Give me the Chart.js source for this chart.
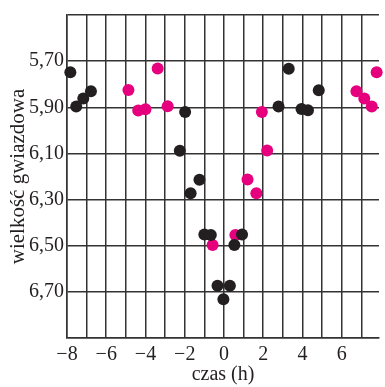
<!DOCTYPE html>
<html>
<head>
<meta charset="utf-8">
<script src="https://cdn.jsdelivr.net/npm/chart.js@4"></script>
<style>
  html, body { margin:0; padding:0; background:#fff; }
  #wrap { width:385px; height:387px; }
</style>
</head>
<body>
<div id="wrap"><canvas id="chart"></canvas></div>
<script>
// dane: czas (h) i wielkość gwiazdowa
const blackX = [-7.83, -7.53, -7.17, -6.78, -2.25, -1.98, -1.7, -1.25, -1.0, -0.67, -0.33, -0.03, 0.3, 0.53, 0.92, 2.78, 3.3, 3.95, 4.28, 4.83];
const blackY = [5.748, 5.897, 5.862, 5.83, 6.088, 5.92, 6.273, 6.214, 6.451, 6.454, 6.674, 6.732, 6.674, 6.497, 6.451, 5.897, 5.733, 5.907, 5.913, 5.826];
const pinkX = [-4.87, -4.37, -4.0, -3.38, -2.87, -0.58, 0.58, 1.2, 1.65, 1.93, 2.2, 6.75, 7.15, 7.53, 7.78];
const pinkY = [5.825, 5.914, 5.909, 5.732, 5.896, 6.497, 6.454, 6.213, 6.273, 5.92, 6.087, 5.83, 5.862, 5.897, 5.748];

const xTicks = [-8, -7, -6, -5, -4, -3, -2, -1, 0, 1, 2, 3, 4, 5, 6, 7];
const yTicks = [5.5, 5.7, 5.9, 6.1, 6.3, 6.5, 6.7, 6.9];
const yLabeled = [5.7, 5.9, 6.1, 6.3, 6.5, 6.7];

const BLACK = "#231f20";
const PINK = "#e6007e";
const FONT = "'Liberation Serif', 'DejaVu Serif', serif";

const toPts = (xs, ys) => xs.map((x, i) => ({ x, y: ys[i] }));

new Chart(document.getElementById("chart"), {
  type: "scatter",
  data: {
    datasets: [
      { data: toPts(blackX, blackY), backgroundColor: BLACK, borderColor: BLACK, pointRadius: 6, borderWidth: 0, clip: false, order: 0 },
      { data: toPts(pinkX, pinkY), backgroundColor: PINK, borderColor: PINK, pointRadius: 6, borderWidth: 0, clip: false, order: 1 }
    ]
  },
  options: {
    responsive: true,
    maintainAspectRatio: false,
    animation: false,
    layout: { padding: { top: 13, right: 0, left: 0, bottom: 0 } },
    plugins: { legend: { display: false }, tooltip: { enabled: false } },
    scales: {
      x: {
        type: "linear",
        min: -8, max: 7.9,
        afterBuildTicks: (s) => { s.ticks = xTicks.map(v => ({ value: v })); },
        afterFit: (s) => { s.height = 49; },
        grid: { color: "#333", lineWidth: 1.5, drawTicks: false },
        border: { color: "#333", width: 1.5 },
        ticks: {
          color: BLACK, padding: 5, maxRotation: 0, autoSkip: false,
          font: { family: FONT, size: 20 },
          callback: (v) => (v % 2 === 0 ? (v < 0 ? "\u2212" + Math.abs(v) : String(v)) : "")
        },
        title: { display: true, text: "czas (h)", color: BLACK, font: { family: FONT, size: 20 }, padding: { top: 0, bottom: 0 } }
      },
      y: {
        type: "linear",
        reverse: true,
        min: 5.5, max: 6.9,
        afterBuildTicks: (s) => { s.ticks = yTicks.map(v => ({ value: v })); },
        afterFit: (s) => { s.width = 67; },
        grid: { color: "#333", lineWidth: 1.5, drawTicks: false },
        border: { color: "#333", width: 1.5 },
        ticks: {
          color: BLACK, padding: 3, autoSkip: false,
          font: { family: FONT, size: 20 },
          callback: (v) => (yLabeled.some(t => Math.abs(t - v) < 1e-6) ? v.toFixed(2).replace(".", ",") : "")
        },
        title: { display: true, text: "wielkość gwiazdowa", color: BLACK, font: { family: FONT, size: 21 }, padding: { top: 6, bottom: 0 } }
      }
    }
  }
});
</script>
</body>
</html>
